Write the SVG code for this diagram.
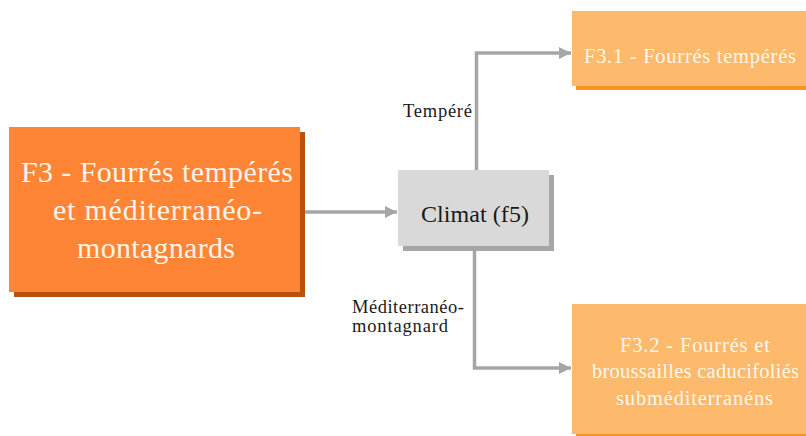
<svg xmlns="http://www.w3.org/2000/svg" width="806" height="436" viewBox="0 0 806 436">
  <style>
    text { font-family: "Liberation Serif", "Times New Roman", serif; }
    .conn { fill: none; stroke: #A6A6A6; stroke-width: 3.5; marker-end: url(#arrow); }
    .lbl { font-size: 18.5px; fill: #1A1A1A; }
    .main { font-size: 30px; fill: #FFF4EA; }
    .leaf { font-size: 20.5px; fill: #FFF6EA; }
    .mid { font-size: 24px; fill: #1A1A1A; }
  </style>
  <defs>
    <marker id="arrow" markerUnits="userSpaceOnUse" markerWidth="14" markerHeight="14" refX="12" refY="7" orient="auto">
      <path d="M0,1 L12,7 L0,13 Z" fill="#A6A6A6"/>
    </marker>
  </defs>

  <!-- connectors -->
  <g id="connectors">
    <path class="conn" d="M305 212 H397"/>
    <path class="conn" d="M476.5 170 V53 H571"/>
    <path class="conn" d="M474.5 246 V368 H571"/>
    <text class="lbl" x="403" y="117" textLength="69">Tempéré</text>
    <text class="lbl" x="352" y="313" textLength="112">Méditerranéo-</text>
    <text class="lbl" x="352" y="332" textLength="96">montagnard</text>
  </g>

  <!-- root node -->
  <g id="node-f3">
    <rect x="14" y="132" width="291" height="165" fill="#B9520F"/>
    <rect x="9" y="127" width="291" height="165" fill="#FD8535"/>
    <text class="main" x="21" y="182" textLength="272">F3 - Fourrés tempérés</text>
    <text class="main" x="53" y="220" textLength="209">et méditerranéo-</text>
    <text class="main" x="77" y="258" textLength="158">montagnards</text>
  </g>

  <!-- decision node -->
  <g id="node-climat">
    <rect x="403" y="175" width="151" height="76" fill="#A6A6A6"/>
    <rect x="398" y="170" width="151" height="76" fill="#D9D9D9"/>
    <text class="mid" x="421" y="222" textLength="108">Climat (f5)</text>
  </g>

  <!-- leaf: temperate -->
  <g id="node-f31">
    <rect x="576" y="15" width="240" height="75" fill="#F7931E"/>
    <rect x="572" y="11" width="240" height="75" fill="#FDBA6C"/>
    <text class="leaf" x="584" y="63" textLength="212">F3.1 - Fourrés tempérés</text>
  </g>

  <!-- leaf: sub-mediterranean -->
  <g id="node-f32">
    <rect x="576" y="308" width="246" height="130" fill="#F7931E"/>
    <rect x="572" y="304" width="246" height="130" fill="#FDBA6C"/>
    <text class="leaf" x="620" y="352" textLength="150">F3.2 - Fourrés et</text>
    <text class="leaf" x="592" y="378" textLength="207">broussailles caducifoliés</text>
    <text class="leaf" x="616" y="405" textLength="157">subméditerranéns</text>
  </g>
</svg>
